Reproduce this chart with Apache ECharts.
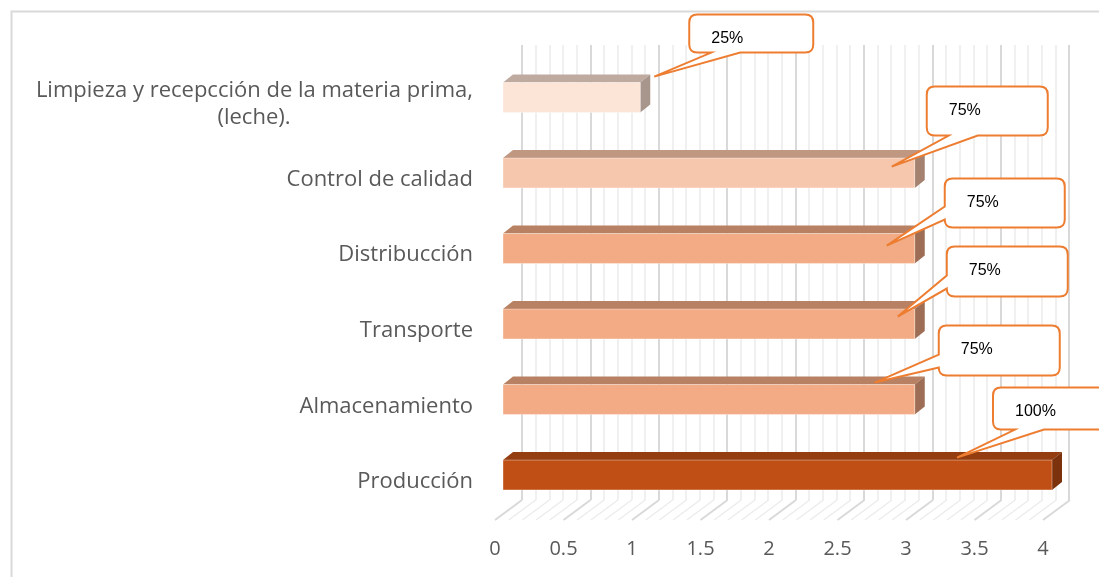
<!DOCTYPE html>
<html>
<head>
<meta charset="utf-8">
<script src="https://cdn.jsdelivr.net/npm/echarts@6/dist/echarts.min.js"></script>
<style>
  html, body { margin: 0; padding: 0; background: #ffffff; }
  #chart { width: 1099px; height: 577px; }
</style>
</head>
<body>
<div id="chart"></div>
<script>
// Process stages, top to bottom
const categories = [
  'Limpieza y recepcción de la materia prima,\n(leche).',
  'Control de calidad',
  'Distribucción',
  'Transporte',
  'Almacenamiento',
  'Producción'
];
// Score of each stage on the 0–4 scale
const values = [1, 3, 3, 3, 3, 4];
// Value-axis ticks
const xTicks = [0, 0.5, 1, 1.5, 2, 2.5, 3, 3.5, 4];

const X_MIN = xTicks[0];
const X_MAX = xTicks[xTicks.length - 1];
const X_STEP = xTicks[1] - xTicks[0];
const MINOR_SPLIT = 5;

// 3D bar colours per stage: front, top and side faces
const faceColors = ['#FCE4D6', '#F6C7AC', '#F2AB85', '#F2AB85', '#F2AB85', '#C04F15'];
const topColors  = ['#BFAAA0', '#C09882', '#B88163', '#B88163', '#B88163', '#943D10'];
const sideColors = ['#A8958B', '#A4826F', '#9D6E55', '#9D6E55', '#9D6E55', '#7C320D'];

// Bar depth and floor depth (pixels)
const BAR_DX = 10, BAR_DY = -8;
const FLOOR_DX = 27, FLOOR_DY = -20;
const BAR_RATIO = 0.395;

// Callout boxes, placed relative to the bar's front top-right corner
const calloutLayout = [
  { box: [49, -68, 124, 38],   tip: [14, -6],    side: 'bottom' },
  { box: [12, -71.5, 121, 49], tip: [-23, 8.5],  side: 'bottom' },
  { box: [30, -55, 120, 49],   tip: [-28, 12],   side: 'left' },
  { box: [32, -62.5, 121, 50], tip: [-17, 7.5],  side: 'left' },
  { box: [24, -59, 121, 50],   tip: [-40, -2],   side: 'left' },
  { box: [-59, -72.5, 130, 42], tip: [-95, -2.5], side: 'bottom' }
];

const ORANGE = '#ED7D31';
const LABEL_GREY = '#595959';
const FONT = '"Open Sans", "Noto Sans", sans-serif';
const CALLOUT_FONT = '"Liberation Sans", Arial, sans-serif';
const CAT_SIZE = 22;
const AXIS_SIZE = 20;

// Width of a text run in the category label font
const measureCtx = document.createElement('canvas').getContext('2d');
function textWidth(s) {
  measureCtx.font = CAT_SIZE + 'px ' + FONT;
  return measureCtx.measureText(s).width;
}

// Share of the full scale, shown in each callout
function pctText(v) {
  return Math.round((v - X_MIN) / (X_MAX - X_MIN) * 100) + '%';
}

function barGeom(api) {
  const c = api.value(1);
  const start = api.coord([X_MIN, c]);
  const end = api.coord([api.value(0), c]);
  const h = api.size([0, 1])[1] * BAR_RATIO;
  return { x0: start[0], x1: end[0], yt: end[1] - h / 2, yb: end[1] + h / 2 };
}

function renderBar(params, api) {
  const i = params.dataIndex;
  const g = barGeom(api);
  return {
    type: 'group',
    children: [
      { type: 'polygon', shape: { points: [[g.x0, g.yt], [g.x0 + BAR_DX, g.yt + BAR_DY], [g.x1 + BAR_DX, g.yt + BAR_DY], [g.x1, g.yt]] },
        style: { fill: topColors[i] } },
      { type: 'polygon', shape: { points: [[g.x1, g.yt], [g.x1 + BAR_DX, g.yt + BAR_DY], [g.x1 + BAR_DX, g.yb + BAR_DY], [g.x1, g.yb]] },
        style: { fill: sideColors[i] } },
      { type: 'rect', shape: { x: g.x0, y: g.yt, width: g.x1 - g.x0, height: g.yb - g.yt },
        style: { fill: faceColors[i], stroke: 'rgba(255,255,255,0.35)', lineWidth: 1 } }
    ]
  };
}

function calloutPath(x, y, w, h, tx, ty, side) {
  const r = 8;
  let p = 'M' + (x + r) + ',' + y +
    ' L' + (x + w - r) + ',' + y +
    ' Q' + (x + w) + ',' + y + ' ' + (x + w) + ',' + (y + r) +
    ' L' + (x + w) + ',' + (y + h - r) +
    ' Q' + (x + w) + ',' + (y + h) + ' ' + (x + w - r) + ',' + (y + h);
  if (side === 'bottom') {
    p += ' L' + (x + 51) + ',' + (y + h) +
         ' L' + tx + ',' + ty +
         ' L' + (x + 22) + ',' + (y + h);
  }
  p += ' L' + (x + r) + ',' + (y + h) +
       ' Q' + x + ',' + (y + h) + ' ' + x + ',' + (y + h - r);
  if (side === 'left') {
    p += ' L' + x + ',' + (y + h - 8) +
         ' L' + tx + ',' + ty +
         ' L' + x + ',' + (y + h - 21);
  }
  p += ' L' + x + ',' + (y + r) +
       ' Q' + x + ',' + y + ' ' + (x + r) + ',' + y + ' Z';
  return p;
}

function renderCallout(params, api) {
  const i = params.dataIndex;
  const g = barGeom(api);
  const L = calloutLayout[i];
  const bx = g.x1 + L.box[0], by = g.yt + L.box[1], bw = L.box[2], bh = L.box[3];
  const tx = g.x1 + L.tip[0], ty = g.yt + L.tip[1];
  return {
    type: 'group',
    children: [
      { type: 'path', shape: { pathData: calloutPath(bx, by, bw, bh, tx, ty, L.side) },
        style: { fill: '#ffffff', stroke: ORANGE, lineWidth: 2, lineJoin: 'miter' } },
      { type: 'text', x: bx + 22, y: by + 24,
        style: { text: pctText(api.value(0)), fill: '#000000', font: '16px ' + CALLOUT_FONT,
                 align: 'left', verticalAlign: 'middle' } }
    ]
  };
}

// Hatched floor under the bars, one diagonal per minor tick
function renderFloor(params, api) {
  const cs = params.coordSys;
  const yFront = cs.y + cs.height;
  const minor = X_STEP / MINOR_SPLIT;
  const count = Math.round((X_MAX - X_MIN) / minor);
  const children = [];
  for (let k = 0; k <= count; k++) {
    const v = X_MIN + k * minor;
    const xf = api.coord([v, 0])[0];
    const major = k % MINOR_SPLIT === 0;
    children.push({
      type: 'line',
      shape: { x1: xf, y1: yFront, x2: xf + FLOOR_DX, y2: yFront + FLOOR_DY },
      style: { stroke: major ? '#D9D9D9' : '#ECECEC', lineWidth: major ? 2 : 1.5 }
    });
  }
  return { type: 'group', children: children };
}

// Category labels: extra lines are centred under the first one
function categoryLabel(val) {
  const lines = val.split('\n');
  if (lines.length === 1) return '{a|' + val + '}';
  const w = Math.ceil(textWidth(lines[0]));
  return lines.map(function (s, k) {
    return k === 0 ? '{a|' + s + '}' : '{c' + w + '|' + s + '}';
  }).join('\n');
}

function categoryRich() {
  const rich = {
    a: { color: LABEL_GREY, fontSize: CAT_SIZE, fontFamily: FONT, lineHeight: 27 }
  };
  categories.forEach(function (val) {
    const lines = val.split('\n');
    if (lines.length > 1) {
      const w = Math.ceil(textWidth(lines[0]));
      rich['c' + w] = { color: LABEL_GREY, fontSize: CAT_SIZE, fontFamily: FONT, lineHeight: 27,
                        width: w, align: 'center' };
    }
  });
  return rich;
}

const barData = values.map((v, i) => [v, i]);

const chart = echarts.init(document.getElementById('chart'), null, { renderer: 'canvas' });

const valueAxisBase = { type: 'value', min: X_MIN, max: X_MAX, interval: X_STEP };

chart.setOption({
  backgroundColor: '#ffffff',
  animation: false,
  textStyle: { fontFamily: FONT },
  graphic: [
    { type: 'rect', left: 9, top: 9, shape: { width: 1200, height: 700 }, z: -10,
      style: { fill: 'none', stroke: '#D9D9D9', lineWidth: 2 } }
  ],
  grid: [
    // back wall
    { left: 522, top: 45, width: 547, height: 455 },
    // floor front edge: axis labels
    { left: 495, top: 66, width: 548, height: 454 },
    // bars
    { left: 503, top: 59.75, width: 549, height: 453 }
  ],
  xAxis: [
    Object.assign({}, valueAxisBase, {
      gridIndex: 0,
      axisLine: { show: false }, axisTick: { show: false }, axisLabel: { show: false },
      splitLine: { show: true, lineStyle: { color: '#D9D9D9', width: 2 } },
      minorTick: { show: false, splitNumber: MINOR_SPLIT },
      minorSplitLine: { show: true, lineStyle: { color: '#ECECEC', width: 1.5 } }
    }),
    Object.assign({}, valueAxisBase, {
      gridIndex: 1,
      axisLine: { show: false }, axisTick: { show: false },
      splitLine: { show: false },
      axisLabel: { show: true, color: LABEL_GREY, fontSize: AXIS_SIZE, fontFamily: FONT, margin: 19 }
    }),
    Object.assign({}, valueAxisBase, {
      gridIndex: 2, show: false
    })
  ],
  yAxis: [
    { type: 'category', gridIndex: 0, data: categories, inverse: true, show: false },
    {
      type: 'category', gridIndex: 1, data: categories, inverse: true,
      axisLine: { show: false }, axisTick: { show: false }, splitLine: { show: false },
      axisLabel: {
        show: true, margin: 22, color: LABEL_GREY, fontSize: CAT_SIZE, fontFamily: FONT,
        lineHeight: 27, align: 'right',
        formatter: categoryLabel,
        rich: categoryRich()
      }
    },
    { type: 'category', gridIndex: 2, data: categories, inverse: true, show: false }
  ],
  series: [
    {
      type: 'custom', name: 'floor', xAxisIndex: 1, yAxisIndex: 1,
      data: [[X_MIN, 0]], renderItem: renderFloor, silent: true, z: 1
    },
    {
      type: 'custom', name: 'bars', xAxisIndex: 2, yAxisIndex: 2,
      encode: { x: 0, y: 1 }, data: barData, renderItem: renderBar, z: 3
    },
    {
      type: 'custom', name: 'callouts', xAxisIndex: 2, yAxisIndex: 2,
      encode: { x: 0, y: 1 }, data: barData, renderItem: renderCallout, z: 5, clip: false
    }
  ]
});
</script>
</body>
</html>
